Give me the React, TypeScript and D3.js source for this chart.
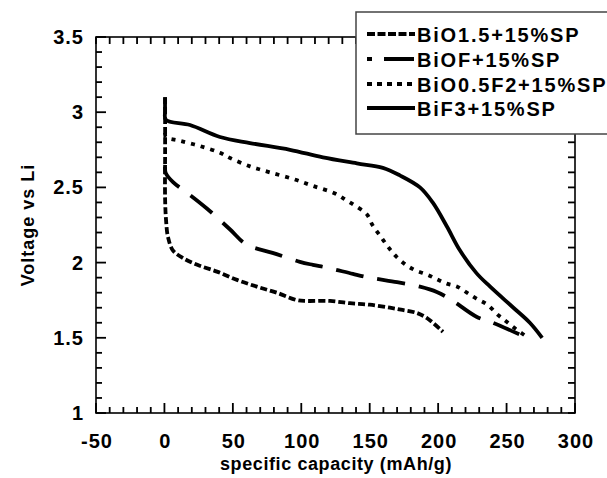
import React from 'react';
import * as d3 from 'd3';

// legend / series names
const seriesNames = ["BiO1.5+15%SP", "BiOF+15%SP", "BiO0.5F2+15%SP", "BiF3+15%SP"];

// BiO1.5 (short dashes)
const bio15Cap = [0.5, 0.5, 0.5, 1.2, 2.6, 6.3, 13.6, 24, 38.4, 53, 67.6, 82, 97, 104, 121, 135.5, 150, 164.8, 174, 184.5, 192, 203.5];
const bio15Volt = [3.1, 2.75, 2.42, 2.28, 2.17, 2.08, 2.03, 1.985, 1.94, 1.885, 1.84, 1.8, 1.75, 1.745, 1.745, 1.73, 1.72, 1.7, 1.685, 1.665, 1.63, 1.54];

// BiOF (long dashes)
const biofCap = [0.5, 1, 6.3, 17.2, 31, 48, 60, 79, 99, 108.5, 119.5, 137.7, 150, 170, 186.7, 199, 210, 228, 240, 260];
const biofVolt = [2.65, 2.595, 2.535, 2.46, 2.36, 2.22, 2.12, 2.065, 2.005, 1.985, 1.965, 1.925, 1.9, 1.87, 1.84, 1.805, 1.75, 1.64, 1.6, 1.52];

// BiO0.5F2 (dots)
const bio05Cap = [0.5, 1, 11.4, 26, 40.6, 48, 62.5, 77, 94, 108.5, 124.6, 132, 139, 148, 152, 157.5, 163, 168.4, 175.7, 183, 192, 199, 206.4, 214, 221, 228, 236, 244, 251, 258, 266];
const bio05Volt = [2.86, 2.835, 2.81, 2.775, 2.73, 2.695, 2.64, 2.6, 2.556, 2.51, 2.46, 2.42, 2.38, 2.32, 2.25, 2.18, 2.11, 2.05, 1.99, 1.95, 1.92, 1.89, 1.86, 1.84, 1.8, 1.76, 1.72, 1.65, 1.6, 1.55, 1.5];

// BiF3 (solid)
const bif3Cap = [0.5, 0.5, 1, 18.7, 40.6, 62.5, 91.7, 115.8, 140.6, 159.6, 172, 186.7, 196, 206.4, 216, 228, 238, 255, 267, 276];
const bif3Volt = [3.1, 3.01, 2.95, 2.915, 2.835, 2.795, 2.75, 2.7, 2.66, 2.63, 2.58, 2.5, 2.4, 2.24, 2.08, 1.93, 1.84, 1.7, 1.6, 1.5];

const xTickLabels = [-50, 0, 50, 100, 150, 200, 250, 300];
const yTickLabels = [1, 1.5, 2, 2.5, 3, 3.5];

const seriesCaps = [bio15Cap, biofCap, bio05Cap, bif3Cap];
const seriesVolts = [bio15Volt, biofVolt, bio05Volt, bif3Volt];
const dashes = ["7,3", "28,14", "4,6", undefined];
const legendDashes = ["8,2.5", "30,12", "5,5", undefined];
const legendOffsets = [0, 25, 0, 0];

const font = "'Liberation Sans', Arial, sans-serif";

const width = 607;
const height = 478;
const left = 96, right = 575, top = 37, bottom = 413;

function App() {
  const x = d3.scaleLinear().domain([-50, 300]).range([left, right]);
  const y = d3.scaleLinear().domain([1, 3.5]).range([bottom, top]);

  const xMinor = d3.range(-50, 301, 10);
  const yMinor = d3.range(10, 36);

  const line = d3.line<[number, number]>()
    .x(d => x(d[0]))
    .y(d => y(d[1]))
    .curve(d3.curveCatmullRom.alpha(0.5));

  const labelStyle = { fontFamily: font, fontWeight: 'bold' as const, fontSize: 20, letterSpacing: 1 };
  const rowY = [34, 59, 84, 108];

  return (
    <svg width={width} height={height} style={{ position: 'absolute', left: 0, top: 0, background: '#fff' }}>
      {/* ticks drawn as small filled bars, pointing inward */}
      <g fill="#000">
        {xMinor.map(v => {
          const len = v % 50 === 0 ? 10 : 6;
          return <rect key={'b' + v} x={x(v) - 0.9} y={bottom - len} width={1.8} height={len} />;
        })}
        {xMinor.map(v => (
          <rect key={'t' + v} x={x(v) - 0.9} y={top} width={1.8} height={7} />
        ))}
        {yMinor.map(v => {
          const len = v % 5 === 0 ? 10 : 6;
          return <rect key={'l' + v} x={left} y={y(v / 10) - 0.9} width={len} height={1.8} />;
        })}
        {yMinor.map(v => (
          <rect key={'r' + v} x={right - 7} y={y(v / 10) - 0.9} width={7} height={1.8} />
        ))}
      </g>
      <rect x={left} y={top} width={right - left} height={bottom - top} fill="none" stroke="#000" strokeWidth={1.6} />

      {/* tick labels */}
      {xTickLabels.map(d => (
        <text key={'xl' + d} x={x(d) + 1} y={448} textAnchor="middle" style={labelStyle}>{String(d)}</text>
      ))}
      {yTickLabels.map(d => (
        <text key={'yl' + d} x={84} y={y(d) + 7} textAnchor="end" style={labelStyle}>{String(d)}</text>
      ))}

      {/* axis titles */}
      <text x={336} y={470} textAnchor="middle"
        style={{ fontFamily: font, fontWeight: 'bold', fontSize: 18, letterSpacing: 0.6 }}>
        specific capacity (mAh/g)
      </text>
      <text transform="translate(34,225) rotate(-90)" textAnchor="middle"
        style={{ fontFamily: font, fontWeight: 'bold', fontSize: 18, letterSpacing: 1 }}>
        Voltage vs Li
      </text>

      {/* curves */}
      {seriesNames.map((name, i) => {
        const pts = seriesCaps[i].map((c, j) => [c, seriesVolts[i][j]] as [number, number]);
        return (
          <path key={name} d={line(pts) || ''} fill="none" stroke="#000" strokeWidth={3.8}
            strokeDasharray={dashes[i]} />
        );
      })}

      {/* legend */}
      <g>
        <rect x={356} y={12} width={270} height={122} fill="#fff" stroke="#444" strokeWidth={1.5} />
        {seriesNames.map((name, i) => (
          <g key={'lg' + name}>
            <line x1={367} x2={415} y1={rowY[i]} y2={rowY[i]} stroke="#000" strokeWidth={4}
              strokeDasharray={legendDashes[i]} strokeDashoffset={legendOffsets[i]} />
            <text x={417} y={rowY[i] + 8}
              style={{ fontFamily: font, fontWeight: 'bold', fontSize: 20, letterSpacing: 1.8 }}>
              {name}
            </text>
          </g>
        ))}
      </g>
    </svg>
  );
}

export default App;
